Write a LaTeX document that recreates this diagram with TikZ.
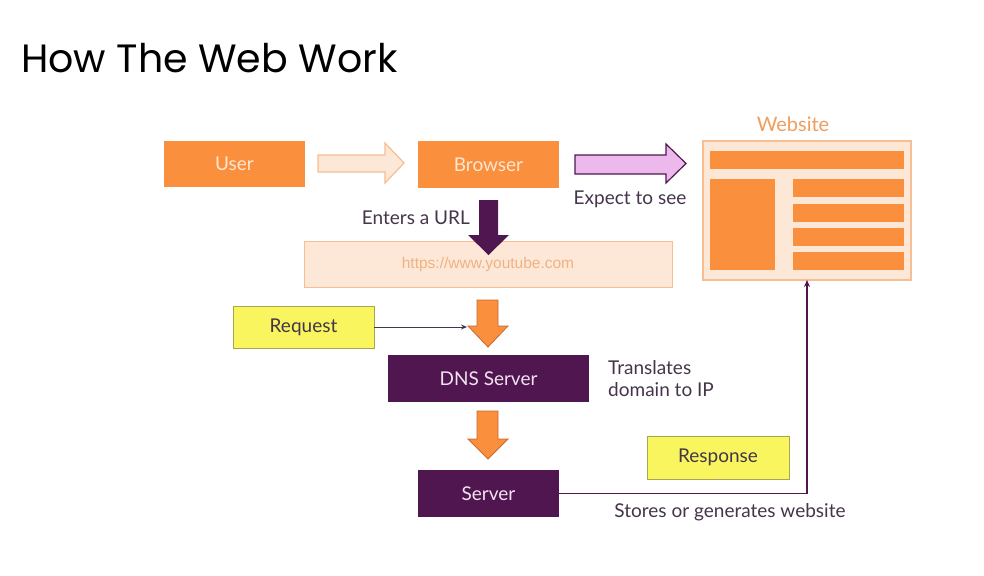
\documentclass[tikz,border=0pt]{standalone}
\usepackage{fontspec}
\setmainfont{Lato}
\newfontfamily\titlefont{Poppins}
\newfontfamily\urlfont{Liberation Sans}
\usetikzlibrary{calc,arrows.meta}

\definecolor{boxorange}{HTML}{FA8F3D}
\definecolor{peachfill}{HTML}{FDE8D7}
\definecolor{peachline}{HTML}{F6BE92}
\definecolor{plum}{HTML}{501650}
\definecolor{lilac}{HTML}{EDB9EC}
\definecolor{lemon}{HTML}{F8F55E}
\definecolor{lemonline}{HTML}{A8A650}
\definecolor{inktext}{HTML}{45354A}
\definecolor{creamtext}{HTML}{FFE7D2}
\definecolor{palepurpletext}{HTML}{F3E3F0}
\definecolor{arrowedge}{HTML}{C86A2C}
\definecolor{urltext}{HTML}{F0B283}
\definecolor{weblabeltext}{HTML}{F09E5C}

\tikzset{
  x=1pt, y=1pt,
  labelfont/.style={font=\fontsize{19}{22}\selectfont},
  base/.style={inner sep=0pt, outer sep=0pt, anchor=north west},
  orangebox/.style={base, fill=boxorange},
  plumbox/.style={base, fill=plum},
  notebox/.style={base, fill=lemon, draw=lemonline, line width=1pt},
  caption/.style={inner sep=0pt, text=inktext, labelfont},
  downarrow/.style={fill=boxorange, draw=arrowedge, line width=0.8pt, line join=miter},
  webbar/.style={fill=boxorange},
}

\begin{document}
\begin{tikzpicture}
\useasboundingbox[fill=white] (0,0) rectangle (984,-575);

% title
\node[anchor=base west, inner sep=0pt, font=\titlefont\fontsize{39.5}{46}\selectfont] (title) at (21,-73) {How The Web Work};

% user and browser
\node[orangebox, minimum width=141, minimum height=46] (user) at (164,-141) {};
\node at (user.center) [text=creamtext, labelfont] {User};
\node[orangebox, minimum width=141, minimum height=47] (browser) at (418,-141) {};
\node at (browser.center) [text=creamtext, labelfont] {Browser};

% hollow arrow user -> browser
\draw[fill=peachfill, draw=peachline, line width=1.2pt]
  (318,-155) -- (385,-155) -- (385,-143) -- (404,-163) -- (385,-183) -- (385,-172) -- (318,-172) -- cycle;

% browser -> website arrow
\draw[fill=lilac, draw=plum, line width=1.2pt]
  (575,-155) -- (666,-155) -- (666,-144) -- (686,-163.5) -- (666,-183) -- (666,-174) -- (575,-174) -- cycle;
\node[caption] (expect) at (630,-199) {Expect to see};

% url field
\node[base, fill=peachfill, draw=peachline, line width=1pt, minimum width=368, minimum height=46] (url) at (304,-241) {};
\node[text=urltext, font=\urlfont\fontsize{15.5}{18}\selectfont] at (url.center) {https://www.youtube.com};

% browser -> url arrow
\fill[plum] (479,-200) -- (498,-200) -- (498,-235) -- (509,-235) -- (488.5,-255) -- (468,-235) -- (479,-235) -- cycle;
\node[caption, anchor=east] (enters) at (470,-218) {Enters a URL};

% request
\node[notebox, minimum width=141, minimum height=42] (request) at (233,-306) {};
\node[text=inktext, labelfont] at (request.center) {Request};

% url -> dns arrow
\draw[downarrow] (477,-300) -- (498,-300) -- (498,-326) -- (508,-326) -- (488,-347) -- (468,-326) -- (477,-326) -- cycle;
\coordinate (dnsin) at (467,-327);
\draw[-{Stealth[length=6pt,width=5pt]}, draw=inktext, line width=1pt] (request.east) -- (dnsin);

% dns server
\node[plumbox, minimum width=201, minimum height=47] (dns) at (388,-355) {};
\node[text=palepurpletext, labelfont] at (dns.center) {DNS Server};
\node[caption, anchor=west, align=left, font=\fontsize{19}{22}\selectfont] (translates) at (608,-379) {Translates\\domain to IP};

% dns -> server arrow
\draw[downarrow] (477,-411) -- (498,-411) -- (498,-439) -- (508,-439) -- (488,-459) -- (468,-439) -- (477,-439) -- cycle;

% server
\node[plumbox, minimum width=141, minimum height=47] (server) at (418,-470) {};
\node[text=palepurpletext, labelfont] at (server.center) {Server};

% response
\node[notebox, minimum width=142, minimum height=43] (response) at (647,-436) {};
\node[text=inktext, labelfont] at (response.center) {Response};
\node[caption] (stores) at (730,-512) {Stores or generates website};

% website mock-up
\node[text=weblabeltext, font=\fontsize{20}{24}\selectfont] (weblabel) at (793,-124) {Website};
\node[base, fill=peachfill, draw=peachline, line width=1.2pt, minimum width=208, minimum height=139] (web) at (703,-141) {};
\fill[webbar] (710,-151) rectangle (904,-169);
\fill[webbar] (710,-179) rectangle (775,-270);
\fill[webbar] (793,-179) rectangle (904,-197);
\fill[webbar] (793,-204) rectangle (904,-222);
\fill[webbar] (793,-228) rectangle (904,-246);
\fill[webbar] (793,-252) rectangle (904,-270);

% server -> website
\draw[-{Stealth[length=7pt,width=6pt]}, draw=plum, line width=1.6pt] (server.east) -| (web.south);
\end{tikzpicture}
\end{document}
